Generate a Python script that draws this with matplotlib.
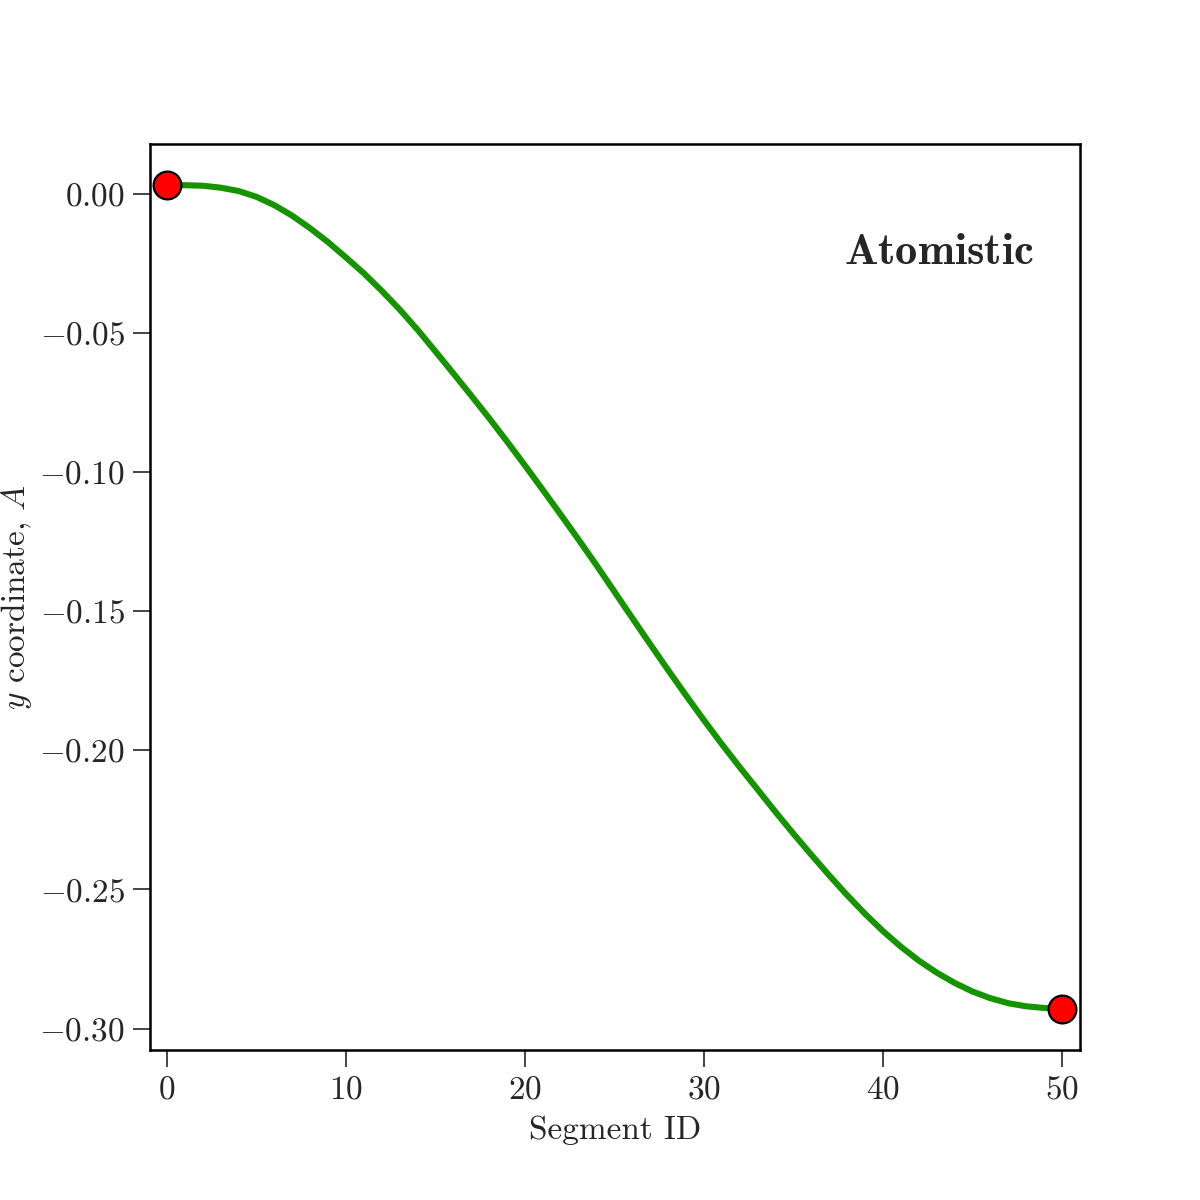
import numpy as np
import matplotlib
matplotlib.use("Agg")
import matplotlib.pyplot as plt

# LaTeX-like look without a TeX install
plt.rcParams["font.family"] = "serif"
plt.rcParams["font.serif"] = ["cmr10"]
plt.rcParams["mathtext.fontset"] = "cm"
plt.rcParams["axes.formatter.use_mathtext"] = True
plt.rcParams["axes.unicode_minus"] = True

TEXT_COLOR = "#262626"

# Segment ids and y coordinates
segment_id = list(range(51))
y_coord = [
    0.0032, 0.0032, 0.0030, 0.0023, 0.0011, -0.0010, -0.0040, -0.0078, -0.0123, -0.0173,
    -0.0228, -0.0285, -0.0348, -0.0415, -0.0488, -0.0566, -0.0645, -0.0725, -0.0806, -0.0890,
    -0.0976, -0.1064, -0.1153, -0.1243, -0.1335, -0.1430, -0.1525, -0.1619, -0.1712, -0.1803,
    -0.1892, -0.1978, -0.2061, -0.2141, -0.2222, -0.2300, -0.2376, -0.2450, -0.2521, -0.2588,
    -0.2650, -0.2706, -0.2756, -0.2799, -0.2836, -0.2867, -0.2891, -0.2909, -0.2920, -0.2926,
    -0.2929,
]
end_ids = [segment_id[0], segment_id[-1]]
end_y = [y_coord[0], y_coord[-1]]

fig, ax = plt.subplots(figsize=(6, 6), dpi=200)
fig.subplots_adjust(left=0.125, right=0.9, top=0.88, bottom=0.125)

ax.plot(segment_id, y_coord, color="#179200", lw=2.2, zorder=2)
ax.plot(end_ids, end_y, "o", ms=10, mfc="red", mec="black", mew=0.8, zorder=3)

ax.set_xlim(-0.95, 51)
ax.set_xticks([0, 10, 20, 30, 40, 50])
ax.set_yticks([0.0, -0.05, -0.10, -0.15, -0.20, -0.25, -0.30])
ax.yaxis.set_major_formatter(plt.FuncFormatter(lambda v, p: f"${v:.2f}$"))

ax.set_xlabel("Segment ID", fontsize=12, color=TEXT_COLOR)
ax.set_ylabel(r"$y$ coordinate, $A$", fontsize=12, color=TEXT_COLOR, labelpad=2)
ax.tick_params(direction="out", length=6, width=0.6, color=TEXT_COLOR,
               labelcolor=TEXT_COLOR, labelsize=12, pad=3)

for s in ax.spines.values():
    s.set_linewidth(0.9)
    s.set_color("black")

ax.text(0.9505, 0.902, r"$\mathbf{Atomistic}$", transform=ax.transAxes,
        ha="right", va="top", fontsize=16, color=TEXT_COLOR)

plt.savefig("out.png", dpi=200)
plt.close(fig)
